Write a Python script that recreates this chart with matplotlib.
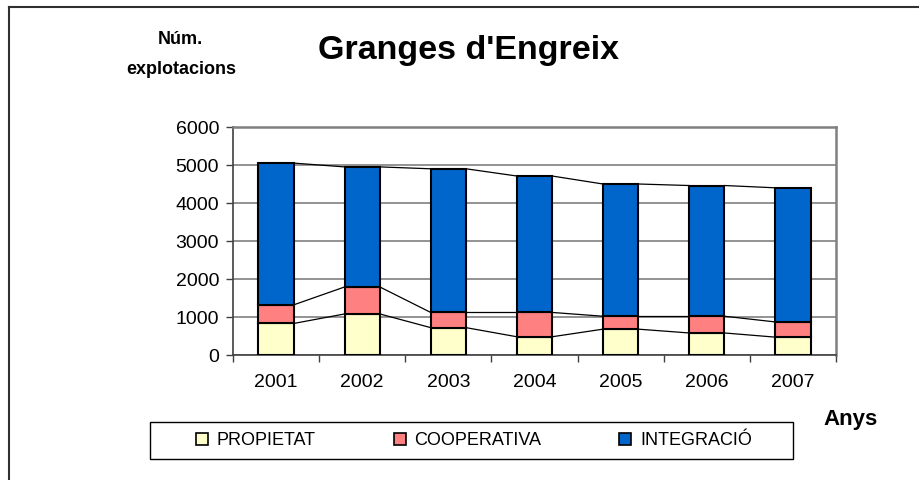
import matplotlib
matplotlib.use("Agg")
import matplotlib.pyplot as plt
from matplotlib.patches import Rectangle
from matplotlib.lines import Line2D
import numpy as np

plt.rcParams['font.family'] = ['Liberation Sans', 'DejaVu Sans']

years = ["2001", "2002", "2003", "2004", "2005", "2006", "2007"]
propietat = [830, 1080, 720, 480, 680, 580, 470]
cooperativa = [490, 710, 400, 640, 340, 440, 400]
integracio = [3730, 3160, 3780, 3590, 3480, 3440, 3530]
series_names = ["PROPIETAT", "COOPERATIVA", "INTEGRACIÓ"]
colors = ["#FFFFCC", "#FF8080", "#0066CC"]
yticks = [0, 1000, 2000, 3000, 4000, 5000, 6000]

W, H = 919, 480
fig = plt.figure(figsize=(W / 100, H / 100), dpi=100)

ax = fig.add_axes([233 / W, 1 - 355 / H, (836 - 233) / W, (355 - 127) / H])
x = np.arange(len(years))
bw = 0.41
bottom = np.zeros(len(years))
levels = []
for vals, col, name in zip([propietat, cooperativa, integracio], colors, series_names):
    ax.bar(x, vals, bw, bottom=bottom, color=col, edgecolor="black", linewidth=1.5,
           label=name, zorder=3)
    bottom = bottom + np.array(vals)
    levels.append(bottom.copy())

# series lines
for lev in levels:
    for i in range(len(years) - 1):
        ax.plot([x[i] + bw / 2, x[i + 1] - bw / 2], [lev[i], lev[i + 1]],
                color="black", linewidth=0.9, zorder=2)

ax.set_xlim(-0.5, len(years) - 0.5)
ax.set_ylim(0, 6000)
ax.set_yticks(yticks)
ax.set_yticklabels([str(v) for v in yticks], fontsize=14)
ax.yaxis.grid(True, color="#808080", linewidth=1.2, zorder=0)
ax.set_axisbelow(True)
ax.set_xticks(x)
ax.set_xticklabels(years, fontsize=14)
ax.set_xticks(np.arange(-0.5, len(years)), minor=True)
ax.tick_params(axis="x", which="major", length=0, pad=14)
ax.tick_params(axis="x", which="minor", length=5, width=1, color="#404040", direction="out")
ax.tick_params(axis="y", length=5, width=1, color="#404040", direction="out", pad=5)
for s in ["top", "right"]:
    ax.spines[s].set_color("#808080")
    ax.spines[s].set_linewidth(1.8)
for s in ["left", "bottom"]:
    ax.spines[s].set_color("#404040")
    ax.spines[s].set_linewidth(1.2)

# titles
fig.text(469 / W, 1 - 50 / H, "Granges d'Engreix", fontsize=24.5, fontweight="bold",
         ha="center", va="center")
fig.text(180 / W, 1 - 39 / H, "Núm.", fontsize=13, fontweight="bold", ha="center", va="center")
fig.text(181 / W, 1 - 70 / H, "explotacions", fontsize=13, fontweight="bold", ha="center", va="center")
fig.text(851 / W, 1 - 420 / H, "Anys", fontsize=16, fontweight="bold", ha="center", va="center")

# legend frame
fig.add_artist(Rectangle((149.5 / W, 1 - 459 / H), (793 - 149.5) / W, (459 - 422) / H,
                         transform=fig.transFigure, facecolor="white", edgecolor="black",
                         linewidth=1.0))
handles = [Rectangle((0, 0), 1, 1, facecolor=c, edgecolor="black", linewidth=1.2) for c in colors]
leg = fig.legend(handles, series_names, loc="center",
                 bbox_to_anchor=(474 / W, 1 - 440.5 / H),
                 ncol=3, fontsize=13, frameon=False,
                 handlelength=0.66, handleheight=0.66, handletextpad=0.5,
                 columnspacing=4.3, borderaxespad=0, borderpad=0)

# outer border (left and top visible)
fig.add_artist(Line2D([8.5 / W, 8.5 / W], [0, 1 - 7 / H], transform=fig.transFigure,
                      color="#303030", linewidth=1.5))
fig.add_artist(Line2D([8.5 / W, 1], [1 - 7 / H, 1 - 7 / H], transform=fig.transFigure,
                      color="#303030", linewidth=1.5))

fig.savefig("out.png", dpi=100)
